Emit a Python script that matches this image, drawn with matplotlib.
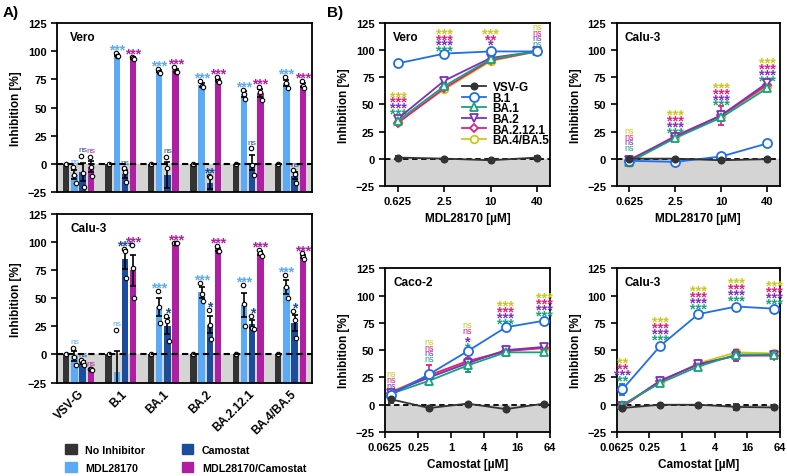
import numpy as np
import matplotlib.pyplot as plt
from matplotlib.patches import Patch
from matplotlib.lines import Line2D

plt.rcParams['font.family'] = ['Liberation Sans', 'DejaVu Sans']
plt.rcParams['font.weight'] = 'bold'
plt.rcParams['axes.labelweight'] = 'bold'

# ---------------- Panel A data ----------------
variants = ["VSV-G", "B.1", "BA.1", "BA.2", "BA.2.12.1", "BA.4/BA.5"]
treatments = ["No Inhibitor", "MDL28170", "Camostat", "MDL28170/Camostat"]
bar_colors = ["#333333", "#5aaaf5", "#1c4d9c", "#b01fa3"]

# three replicates per variant (no inhibitor = 0 reference)
vero_mdl = [[-3, -10, -17], [99, 96, 96], [84, 82, 81], [74, 69, 68], [66, 62, 58], [77, 72, 67]]
vero_cam = [[7, -8, -21], [-4, -7, -16], [6, -4, -32], [-11, -12, -28], [14, -1, -10], [-6, -9, -17]]
vero_combo = [[6, -3, -11], [95, 94, 93], [86, 82, 82], [77, 74, 73], [68, 64, 57], [74, 69, 67]]
calu_mdl = [[6, -2, -9], [22, -35, -35], [57, 42, 28], [64, 54, 48], [62, 45, 25], [71, 60, 50]]
calu_cam = [[-5, -7, -9], [94, 92, 68], [34, 30, 12], [40, 26, 14], [34, 24, 23], [39, 31, 15]]
calu_combo = [[-13, -13, -14], [98, 77, 50], [99, 99, 99], [97, 92, 92], [93, 90, 88], [90, 87, 85]]

vero_sig = [["ns", "***", "***", "***", "***", "***"],
            ["ns", "ns", "ns", "**", "ns", "ns"],
            ["ns", "***", "***", "***", "***", "***"]]
calu_sig = [["ns", "ns", "***", "***", "***", "***"],
            ["ns", "***", "*", "*", "*", "*"],
            ["ns", "***", "***", "***", "***", "***"]]

# ---------------- Panel B data ----------------
lineages = ["VSV-G", "B.1", "BA.1", "BA.2", "BA.2.12.1", "BA.4/BA.5"]
line_colors = ["#333333", "#1f6ee8", "#17a27a", "#7d2fbf", "#e2207f", "#c9c91c"]
line_markers = ["o", "o", "^", "v", "D", "o"]

conc_mdl = [0.625, 2.5, 10, 40]
conc_cam = [0.08, 0.4, 2, 10, 50]

vero_mdl_curve = [[1, 0, -1.5, 1], [88, 97, 99, 99], [35, 67, 92, 99],
                  [37, 72, 93, 99], [33, 65, 91, 99], [34, 64, 90, 99]]
vero_mdl_err = [[1, 1, 1, 1], [1, 1, 2, 1], [2, 2, 2, 1], [2, 2, 2, 1], [2, 2, 2, 1], [2, 2, 2, 1]]
calu_mdl_curve = [[0, 0, -1.5, -0.5], [-2, -3, 2, 14], [-3, 19, 38, 65],
                  [-1, 20, 40, 70], [-2, 21, 40, 68], [-4, 20, 39, 67]]
calu_mdl_err = [[1, 1, 1, 1], [1, 1, 1, 1], [1, 2, 3, 2], [1, 2, 3, 2], [1, 2, 9, 2], [1, 2, 3, 2]]
caco_cam_curve = [[5, -3, 1, -4, 1], [9, 28, 49, 71, 77], [10, 22, 36, 48, 48],
                  [11, 25, 38, 50, 53], [11, 27, 40, 49, 52], [12, 26, 39, 50, 52]]
caco_cam_err = [[3, 1, 1, 1, 1], [2, 2, 2, 2, 2], [2, 3, 6, 3, 2], [2, 3, 8, 2, 2], [2, 9, 3, 3, 2], [2, 3, 3, 2, 2]]
calu_cam_curve = [[-3, 0, 0, -2, -2.5], [14, 54, 83, 90, 88], [0, 20, 35, 46, 46],
                  [-1, 22, 37, 45, 46], [-2, 22, 37, 45, 45], [-1, 21, 38, 48, 47]]
calu_cam_err = [[2, 1, 1, 3, 1], [5, 2, 3, 2, 2], [2, 2, 2, 2, 2], [2, 2, 2, 5, 2], [3, 2, 2, 2, 2], [2, 2, 2, 2, 2]]

# significance labels, rows top->bottom: BA.4/BA.5, BA.2.12.1, BA.2, BA.1
vero_mdl_sig = [["***"] * 4, ["***"] * 4, ["***", "**", "*", "*"], ["ns"] * 4]
vero_mdl_sig_y = [46, 104, 104, 106]
calu_mdl_sig = [["ns"] * 4, ["***"] * 4, ["***"] * 4, ["***"] * 4]
calu_mdl_sig_y = [10, 29, 54, 77]
caco_cam_sig = [["ns"] * 4, ["ns"] * 4, ["ns", "ns", "*", "*"], ["***"] * 4, ["***"] * 4]
caco_cam_sig_y = [12, 42, 57, 79, 86]
calu_cam_sig = [["**", "**", "***", "**"], ["***"] * 4, ["***"] * 4, ["***"] * 4, ["***"] * 4]
calu_cam_sig_y = [27, 64, 93, 100, 97]

fig = plt.figure(figsize=(7.87, 4.77), dpi=100)


def style_axes(ax):
    for s in ax.spines.values():
        s.set_linewidth(1.3)
    ax.set_ylim(-25, 125)
    ax.set_yticks([-25, 0, 25, 50, 75, 100, 125])
    ax.tick_params(axis='both', labelsize=8, width=1.2, length=4)
    ax.axhspan(-25, 0, color="#d4d4d4", zorder=0)
    ax.set_ylabel("Inhibition [%]", fontsize=8.5)


def sig_text(ax, x, y, label, color, size_ns, size_star):
    # y is where the centre of the glyphs should sit
    if label == "ns":
        ax.annotate(label, (x, y), xytext=(0, -0.27 * size_ns), textcoords='offset points',
                    color=color, fontsize=size_ns, fontweight='normal',
                    ha='center', va='baseline', annotation_clip=False)
    else:
        ax.annotate(label, (x, y), xytext=(0, -0.6 * size_star), textcoords='offset points',
                    color=color, fontsize=size_star,
                    ha='center', va='baseline', annotation_clip=False)


def marker_size(i):
    if i == 0:
        return 4.5
    if i == 1:
        return 6.5
    return 4 if line_markers[i] == 'D' else 5.5


def bar_panel(ax, title, groups, sigs, show_labels):
    style_axes(ax)
    x = np.arange(len(variants))
    offs = [-0.29, -0.097, 0.097, 0.29]
    w = 0.15
    ax.bar(x + offs[0], 25, bottom=-25, width=w, color=bar_colors[0], zorder=2)
    ax.plot(x + offs[0], np.zeros(len(x)), 'o', ms=3.2, mfc='white', mec='black', mew=0.8, zorder=4)
    for k, reps in enumerate(groups):
        reps = np.array(reps, dtype=float)
        m = reps.mean(axis=1)
        sem = reps.std(axis=1, ddof=1) / np.sqrt(3)
        xp = x + offs[k + 1]
        ax.bar(xp, m + 25, bottom=-25, width=w, color=bar_colors[k + 1], zorder=2)
        ax.errorbar(xp, m, yerr=sem, fmt='none', ecolor='black', elinewidth=1.2,
                    capsize=2, capthick=1.2, zorder=3)
        for j, jit in enumerate([-0.03, 0.0, 0.03]):
            ax.plot(xp + jit, reps[:, j], 'o', ms=3.2, mfc='white', mec='black', mew=0.8, zorder=4)
        top = np.maximum(reps.max(axis=1), m + sem)
        for i in range(len(x)):
            lab = sigs[k][i]
            sig_text(ax, xp[i], top[i] + (6 if lab == "ns" else 7), lab, bar_colors[k + 1], 6, 10)
    ax.axhline(0, color='black', lw=1.5, ls=(0, (3, 2)), zorder=5)
    ax.set_xlim(-0.5, len(variants) - 0.5)
    ax.set_xticks(x)
    ax.tick_params(axis='x', length=0)
    if show_labels:
        ax.set_xticklabels(variants, rotation=45, ha='right', rotation_mode='anchor', fontsize=8.5)
    else:
        ax.set_xticklabels([])
    ax.text(0.05, 0.9, title, transform=ax.transAxes, fontsize=8.5)


def curve_panel(ax, title, conc, curves, errs, sig, sig_y, camostat):
    style_axes(ax)
    ax.set_xscale('log', base=2)
    for i, name in enumerate(lineages):
        c = line_colors[i]
        mfc = c if i == 0 else 'white'
        ax.errorbar(conc, curves[i], yerr=errs[i], color=c, lw=1.3, marker=line_markers[i],
                    ms=marker_size(i), mfc=mfc, mec=c, mew=1.3, capsize=2, elinewidth=1.2,
                    zorder=3 + (6 - i) * 0.1)
    ax.axhline(0, color='black', lw=1.3, ls=(0, (3, 2)), zorder=2)
    sig_colors = [line_colors[5], line_colors[4], line_colors[3], line_colors[2]]
    for xi, labels, yb in zip(conc, sig, sig_y):
        for r, lab in enumerate(labels):
            sig_text(ax, xi, yb + (3 - r) * 5.4, lab, sig_colors[r], 6.5, 10.5)
    if camostat:
        ax.set_xlim(0.0625, 64)
        ax.set_xticks([0.0625, 0.25, 1, 4, 16, 64])
        ax.set_xticklabels(["0.0625", "0.25", "1", "4", "16", "64"])
        ax.set_xlabel("Camostat [µM]", fontsize=8.5)
    else:
        ax.set_xlim(0.625 / 2 ** 0.56, 40 * 2 ** 0.56)
        ax.set_xticks(conc)
        ax.set_xticklabels(["0.625", "2.5", "10", "40"])
        ax.set_xlabel("MDL28170 [µM]", fontsize=8.5)
    ax.minorticks_off()
    ax.text(0.05, 0.9, title, transform=ax.transAxes, fontsize=8.5)


axA1 = fig.add_axes([0.0728, 0.5958, 0.3233, 0.3532])
axA2 = fig.add_axes([0.0728, 0.196, 0.3233, 0.3528])
bar_panel(axA1, "Vero", [vero_mdl, vero_cam, vero_combo], vero_sig, False)
bar_panel(axA2, "Calu-3", [calu_mdl, calu_cam, calu_combo], calu_sig, True)

handles = [Patch(color=c) for c in bar_colors]
fig.legend(handles, treatments, ncol=2, loc='center', bbox_to_anchor=(0.236, 0.037),
           frameon=False, fontsize=7.7, handlelength=1.1, handleheight=1.1,
           columnspacing=3.4, labelspacing=0.65, handletextpad=0.8)

axB1 = fig.add_axes([0.4892, 0.6086, 0.2097, 0.3405])
axB2 = fig.add_axes([0.7834, 0.6086, 0.2078, 0.3405])
axB3 = fig.add_axes([0.4892, 0.0922, 0.2097, 0.3432])
axB4 = fig.add_axes([0.7834, 0.0922, 0.2078, 0.3432])
curve_panel(axB1, "Vero", conc_mdl, vero_mdl_curve, vero_mdl_err, vero_mdl_sig, vero_mdl_sig_y, False)
curve_panel(axB2, "Calu-3", conc_mdl, calu_mdl_curve, calu_mdl_err, calu_mdl_sig, calu_mdl_sig_y, False)
curve_panel(axB3, "Caco-2", conc_cam, caco_cam_curve, caco_cam_err, caco_cam_sig, caco_cam_sig_y, True)
curve_panel(axB4, "Calu-3", conc_cam, calu_cam_curve, calu_cam_err, calu_cam_sig, calu_cam_sig_y, True)

line_handles = [Line2D([], [], color=line_colors[i], lw=1.3, marker=line_markers[i],
                       ms=marker_size(i), mfc=line_colors[i] if i == 0 else 'white',
                       mec=line_colors[i], mew=1.3) for i in range(len(lineages))]
axB1.legend(line_handles, lineages, loc='lower right', bbox_to_anchor=(1.04, 0.2),
            frameon=False, fontsize=8.5, handlelength=2.0, handletextpad=0.6,
            labelspacing=-0.12, borderpad=0.1)

fig.text(0.003, 0.965, "A)", fontsize=11)
fig.text(0.415, 0.965, "B)", fontsize=11)

fig.savefig("out.png", dpi=100)
